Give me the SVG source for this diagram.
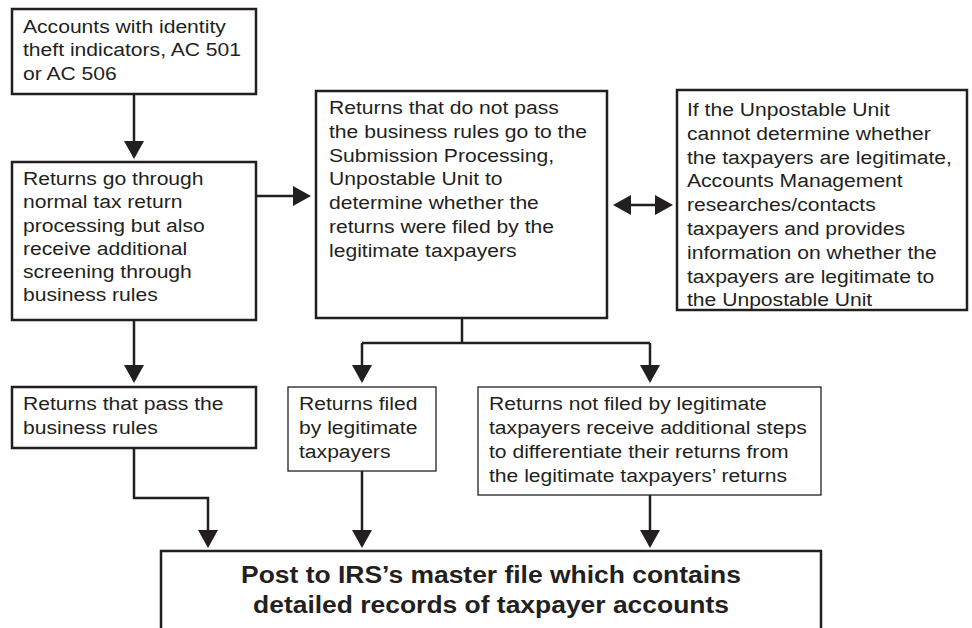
<svg xmlns="http://www.w3.org/2000/svg" width="972" height="628" viewBox="0 0 972 628">
<style>
.box{fill:#fff;stroke:#231f20;stroke-width:2.5}
.thin{fill:#fff;stroke:#231f20;stroke-width:1.3}
.t{font-family:"Liberation Sans",Arial,Helvetica,sans-serif;font-size:18.6px;fill:#231f20}
.b{font-family:"Liberation Sans",Arial,Helvetica,sans-serif;font-size:23.3px;font-weight:bold;fill:#231f20}
.c{fill:none;stroke:#231f20;stroke-width:2.5}
</style>
<defs>
<marker id="ah" markerUnits="userSpaceOnUse" markerWidth="20" markerHeight="20" refX="12" refY="10" orient="auto-start-reverse">
<path d="M0,0 L18,10 L0,20 z" fill="#231f20"/>
</marker>
</defs>
<rect width="972" height="628" fill="#fff"/>
<g id="connectors">
<path class="c" d="M134,94 V153" marker-end="url(#ah)"/>
<path class="c" d="M256,196 H305" marker-end="url(#ah)"/>
<path class="c" d="M619,205 H667" marker-start="url(#ah)" marker-end="url(#ah)"/>
<path class="c" d="M134,320 V377" marker-end="url(#ah)"/>
<path class="c" d="M462,318 V343"/>
<path class="c" d="M362,343 H650"/>
<path class="c" d="M362,343 V377" marker-end="url(#ah)"/>
<path class="c" d="M650,343 V377" marker-end="url(#ah)"/>
<path class="c" d="M134,448 V498 H208 V542" marker-end="url(#ah)"/>
<path class="c" d="M362,471 V542" marker-end="url(#ah)"/>
<path class="c" d="M650,495 V542" marker-end="url(#ah)"/>
</g>
<g id="n1">
<rect class="box" x="12" y="9" width="244" height="85"/>
<text class="t" transform="translate(23,33) scale(1.135,1)"><tspan x="0" y="0">Accounts with identity</tspan><tspan x="0" dy="23.5">theft indicators, AC 501</tspan><tspan x="0" dy="23.5">or AC 506</tspan></text>
</g>
<g id="n2">
<rect class="box" x="12" y="162" width="244" height="158"/>
<text class="t" transform="translate(23,185) scale(1.135,1)"><tspan x="0" y="0">Returns go through</tspan><tspan x="0" dy="23.3">normal tax return</tspan><tspan x="0" dy="23.3">processing but also</tspan><tspan x="0" dy="23.3">receive additional</tspan><tspan x="0" dy="23.3">screening through</tspan><tspan x="0" dy="23.3">business rules</tspan></text>
</g>
<g id="n3">
<rect class="box" x="316" y="91" width="291" height="227"/>
<text class="t" transform="translate(329,114) scale(1.135,1)"><tspan x="0" y="0">Returns that do not pass</tspan><tspan x="0" dy="23.8">the business rules go to the</tspan><tspan x="0" dy="23.8">Submission Processing,</tspan><tspan x="0" dy="23.8">Unpostable Unit to</tspan><tspan x="0" dy="23.8">determine whether the</tspan><tspan x="0" dy="23.8">returns were filed by the</tspan><tspan x="0" dy="23.8">legitimate taxpayers</tspan></text>
</g>
<g id="n4">
<rect class="box" x="677" y="90" width="290" height="220"/>
<text class="t" transform="translate(687,116) scale(1.135,1)"><tspan x="0" y="0">If the Unpostable Unit</tspan><tspan x="0" dy="23.8">cannot determine whether</tspan><tspan x="0" dy="23.8">the taxpayers are legitimate,</tspan><tspan x="0" dy="23.8">Accounts Management</tspan><tspan x="0" dy="23.8">researches/contacts</tspan><tspan x="0" dy="23.8">taxpayers and provides</tspan><tspan x="0" dy="23.8">information on whether the</tspan><tspan x="0" dy="23.8">taxpayers are legitimate to</tspan><tspan x="0" dy="23.8">the Unpostable Unit</tspan></text>
</g>
<g id="n5">
<rect class="box" x="12" y="387" width="244" height="61"/>
<text class="t" transform="translate(23,410) scale(1.135,1)"><tspan x="0" y="0">Returns that pass the</tspan><tspan x="0" dy="24">business rules</tspan></text>
</g>
<g id="n6">
<rect class="thin" x="288" y="387" width="148" height="84"/>
<text class="t" transform="translate(299,410) scale(1.135,1)"><tspan x="0" y="0">Returns filed</tspan><tspan x="0" dy="24">by legitimate</tspan><tspan x="0" dy="24">taxpayers</tspan></text>
</g>
<g id="n7">
<rect class="thin" x="478" y="387" width="343" height="108"/>
<text class="t" transform="translate(489,410) scale(1.135,1)"><tspan x="0" y="0">Returns not filed by legitimate</tspan><tspan x="0" dy="24">taxpayers receive additional steps</tspan><tspan x="0" dy="24">to differentiate their returns from</tspan><tspan x="0" dy="24">the legitimate taxpayers’ returns</tspan></text>
</g>
<g id="n8">
<rect class="box" x="161" y="551" width="660" height="100"/>
<text class="b" text-anchor="middle" transform="translate(491,583) scale(1.135,1)"><tspan x="0" y="0">Post to IRS’s master file which contains</tspan><tspan x="0" dy="30">detailed records of taxpayer accounts</tspan></text>
</g>
</svg>
